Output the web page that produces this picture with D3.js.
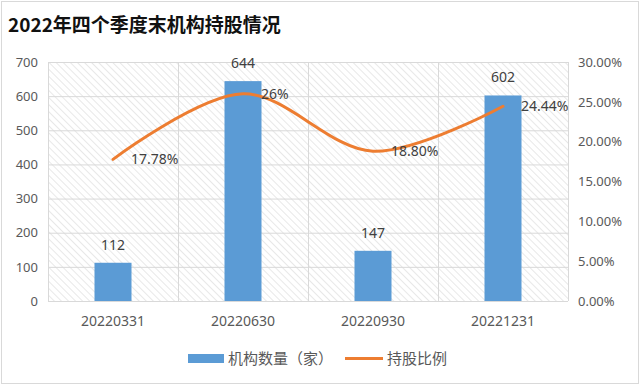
<!DOCTYPE html>
<html>
<head>
<meta charset="utf-8">
<script src="https://cdn.jsdelivr.net/npm/d3@7"></script>
<style>
  body { margin: 0; background: #fff; }
  svg { display: block; font-family: "Noto Sans CJK SC", "Noto Sans", sans-serif; }
</style>
</head>
<body>
<svg id="chart" width="640" height="385"></svg>
<script>
// data
var quarters = ["20220331", "20220630", "20220930", "20221231"];
var orgCount = [112, 644, 147, 602];
var holdRatio = [0.1778, 0.26, 0.188, 0.2444];
var ratioLabels = ["17.78%", "26%", "18.80%", "24.44%"];
var leftTicks = [0, 100, 200, 300, 400, 500, 600, 700];
var rightTicks = [0, 0.05, 0.10, 0.15, 0.20, 0.25, 0.30];

var svg = d3.select('#chart');

var plot = { left: 48, right: 568, top: 62, bottom: 301 };

// outer border
svg.append('rect')
    .attr('x', 1.5).attr('y', 1.5)
    .attr('width', 637).attr('height', 382)
    .attr('fill', '#fff')
    .attr('stroke', '#d9d9d9');

// hatch pattern for plot background
var defs = svg.append('defs');
var pat = defs.append('pattern')
    .attr('id', 'hatch')
    .attr('patternUnits', 'userSpaceOnUse')
    .attr('width', 5).attr('height', 5)
    .attr('patternTransform', 'rotate(-45)');
pat.append('line')
    .attr('x1', 0).attr('y1', 0).attr('x2', 0).attr('y2', 5)
    .attr('stroke', '#d2d2d2').attr('stroke-width', 1);

svg.append('text')
    .attr('x', 8).attr('y', 32)
    .attr('font-size', 19)
    .attr('font-weight', 'bold')
    .attr('fill', '#111')
    .text('2022年四个季度末机构持股情况');

var x = d3.scaleBand()
    .domain(quarters)
    .range([plot.left, plot.right]);

var yL = d3.scaleLinear().domain([0, 700]).range([plot.bottom, plot.top]);
var yR = d3.scaleLinear().domain([0, 0.30]).range([plot.bottom, plot.top]);

svg.append('rect')
    .attr('x', plot.left).attr('y', plot.top)
    .attr('width', plot.right - plot.left).attr('height', plot.bottom - plot.top)
    .attr('fill', 'url(#hatch)');

// horizontal grid
svg.append('g').selectAll('line')
    .data(leftTicks)
    .join('line')
    .attr('x1', plot.left).attr('x2', plot.right)
    .attr('y1', d => yL(d) + 0.5).attr('y2', d => yL(d) + 0.5)
    .attr('stroke', '#d9d9d9');

// vertical grid at category boundaries
var bounds = quarters.map(q => x(q)).concat([plot.right]);
svg.append('g').selectAll('line')
    .data(bounds)
    .join('line')
    .attr('x1', d => d + 0.5).attr('x2', d => d + 0.5)
    .attr('y1', plot.top).attr('y2', plot.bottom)
    .attr('stroke', '#d9d9d9');

// axes
var axisL = svg.append('g')
    .attr('transform', 'translate(' + (plot.left - 10) + ',0)')
    .call(d3.axisLeft(yL).tickValues(leftTicks).tickSize(0).tickPadding(0));
var axisR = svg.append('g')
    .attr('transform', 'translate(' + (plot.right + 10) + ',0)')
    .call(d3.axisRight(yR).tickValues(rightTicks).tickSize(0).tickPadding(0)
        .tickFormat(d3.format('.2%')));
var axisB = svg.append('g')
    .attr('transform', 'translate(0,' + plot.bottom + ')')
    .call(d3.axisBottom(x).tickSize(0).tickPadding(15));

[axisL, axisR, axisB].forEach(function (a) {
    a.select('.domain').remove();
    a.selectAll('text').attr('fill', '#595959').attr('font-size', 13)
        .attr('font-family', '"Noto Sans", sans-serif');
});
axisB.selectAll('text').attr('font-size', 14);

// bars
var bw = 37;
svg.append('g').selectAll('rect')
    .data(orgCount)
    .join('rect')
    .attr('x', (d, i) => x(quarters[i]) + x.bandwidth() / 2 - bw / 2)
    .attr('y', d => yL(d))
    .attr('width', bw)
    .attr('height', d => yL(0) - yL(d))
    .attr('fill', '#5b9bd5');

svg.append('g').selectAll('text')
    .data(orgCount)
    .join('text')
    .attr('x', (d, i) => x(quarters[i]) + x.bandwidth() / 2)
    .attr('y', d => yL(d) - 13)
    .attr('text-anchor', 'middle')
    .attr('font-size', 14)
    .attr('font-family', '"Noto Sans", sans-serif')
    .attr('fill', '#404040')
    .text(d => d);

// smoothed ratio line
var line = d3.line()
    .x((d, i) => x(quarters[i]) + x.bandwidth() / 2)
    .y(d => yR(d))
    .curve(d3.curveCatmullRom.alpha(0.5));

svg.append('path')
    .datum(holdRatio)
    .attr('d', line)
    .attr('fill', 'none')
    .attr('stroke', '#ed7d31')
    .attr('stroke-width', 3)
    .attr('stroke-linecap', 'round');

svg.append('g').selectAll('text')
    .data(holdRatio)
    .join('text')
    .attr('x', (d, i) => x(quarters[i]) + x.bandwidth() / 2 + 18)
    .attr('y', d => yR(d) + 5)
    .attr('font-size', 14)
    .attr('font-family', '"Noto Sans", sans-serif')
    .attr('fill', '#404040')
    .text((d, i) => ratioLabels[i]);

// legend
var legend = svg.append('g').attr('font-size', 15).attr('fill', '#595959');
legend.append('rect')
    .attr('x', 188).attr('y', 354).attr('width', 36).attr('height', 9)
    .attr('fill', '#5b9bd5');
legend.append('text').attr('x', 228).attr('y', 364).text('机构数量（家）');
legend.append('line')
    .attr('x1', 345).attr('x2', 383).attr('y1', 358.5).attr('y2', 358.5)
    .attr('stroke', '#ed7d31').attr('stroke-width', 3);
legend.append('text').attr('x', 387).attr('y', 364).text('持股比例');
</script>
</body>
</html>
